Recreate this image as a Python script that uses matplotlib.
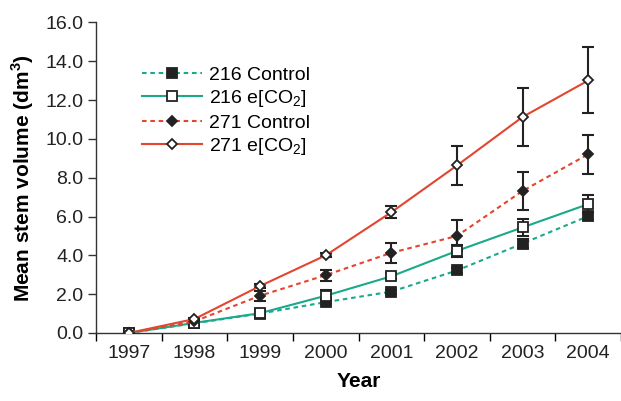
import numpy as np
import matplotlib.pyplot as plt
from matplotlib.ticker import FormatStrFormatter

plt.rcParams['font.family'] = ['Liberation Sans', 'DejaVu Sans']
plt.rcParams['mathtext.fontset'] = 'custom'
plt.rcParams['mathtext.rm'] = 'Liberation Sans'
plt.rcParams['mathtext.bf'] = 'Liberation Sans:bold'

# Data
years = ['1997', '1998', '1999', '2000', '2001', '2002', '2003', '2004']

ctrl_216 = [0.0, 0.50, 1.00, 1.59, 2.13, 3.22, 4.61, 6.02]
ctrl_216_err = [0.0, 0.05, 0.05, 0.10, 0.10, 0.12, 0.25, 0.20]

eco2_216 = [0.0, 0.52, 1.02, 1.92, 2.92, 4.23, 5.44, 6.64]
eco2_216_err = [0.0, 0.05, 0.05, 0.27, 0.15, 0.30, 0.45, 0.46]

ctrl_271 = [0.0, 0.60, 1.92, 2.98, 4.13, 5.00, 7.32, 9.21]
ctrl_271_err = [0.0, 0.05, 0.26, 0.28, 0.53, 0.80, 1.00, 1.00]

eco2_271 = [0.0, 0.72, 2.42, 4.00, 6.22, 8.63, 11.13, 13.01]
eco2_271_err = [0.0, 0.05, 0.08, 0.10, 0.30, 1.00, 1.50, 1.70]

teal = '#1BA98A'
red = '#E3452F'
ink = '#222222'

x = np.arange(len(years))

fig = plt.figure(figsize=(6.21, 4.01), dpi=100)
ax = fig.add_axes([0.1546, 0.1696, 0.8454, 0.7744])

series = [
    (ctrl_216, ctrl_216_err, teal, 'dashed', 's', ink, '216 Control'),
    (eco2_216, eco2_216_err, teal, 'solid', 's', 'white', '216 e[CO$_2$]'),
    (ctrl_271, ctrl_271_err, red, 'dashed', 'D', ink, '271 Control'),
    (eco2_271, eco2_271_err, red, 'solid', 'D', 'white', '271 e[CO$_2$]'),
]

for vals, err, col, ls, mk, fc, lab in series:
    ax.errorbar(x, vals, yerr=err, fmt='none', ecolor=ink, elinewidth=1.5,
                capsize=4.5, capthick=1.5, zorder=3)
    ln, = ax.plot(x, vals, color=col, linestyle=ls, linewidth=1.5,
                  marker=mk, markersize=6.5 if mk == 's' else 5.5,
                  markerfacecolor=fc, markeredgecolor=ink,
                  markeredgewidth=1.3, label=lab, zorder=4)
    if ls == 'dashed':
        ln.set_dashes((2.2, 1.8))

ax.set_xlim(-0.5, 7.5)
ax.set_ylim(0, 16)
ax.set_yticks(np.arange(0, 17, 2))
ax.yaxis.set_major_formatter(FormatStrFormatter('%.1f'))
ax.set_xticks(x)
ax.set_xticklabels(years)
ax.set_xticks(np.arange(-0.5, 8, 1), minor=True)
ax.tick_params(axis='x', which='major', length=0, pad=9, labelsize=14)
ax.tick_params(axis='x', which='minor', length=6, width=1, direction='out')
ax.tick_params(axis='y', length=6, width=1, direction='out', labelsize=14, pad=3)

for side in ['top', 'right']:
    ax.spines[side].set_visible(False)
for side in ['left', 'bottom']:
    ax.spines[side].set_linewidth(1.0)
    ax.spines[side].set_color('#333333')
ax.tick_params(colors='#333333', labelcolor='#222222')

ax.set_xlabel('Year', fontsize=15, fontweight='bold', labelpad=7)
ax.set_ylabel(r'Mean stem volume (dm$^\mathbf{3}$)', fontsize=15,
              fontweight='bold', labelpad=7)

ax.legend(loc='upper left', bbox_to_anchor=(0.073, 0.885), frameon=False,
          fontsize=14, handlelength=3.1, handletextpad=0.35,
          labelspacing=0.24, borderaxespad=0)

fig.savefig('out.png', dpi=100)
